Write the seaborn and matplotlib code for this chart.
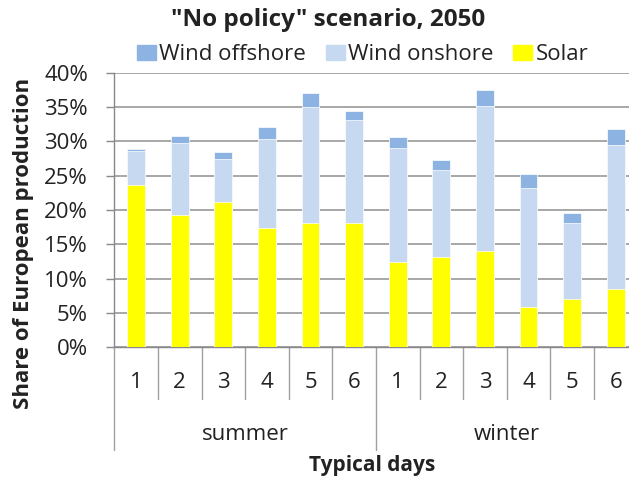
import numpy as np
import matplotlib
matplotlib.use('Agg')
import matplotlib.pyplot as plt
import matplotlib.transforms as mtransforms
from matplotlib.patches import Patch
from matplotlib.ticker import FuncFormatter
import seaborn as sns

# Data (share of European production, %)
seasons = ["summer", "winter"]
days = ["1", "2", "3", "4", "5", "6"]
solar = [23.6, 19.3, 21.1, 17.4, 18.1, 18.1, 12.4, 13.1, 14.1, 5.9, 7.0, 8.5]
wind_onshore = [5.0, 10.5, 6.3, 13.0, 16.9, 15.0, 16.7, 12.7, 21.1, 17.3, 11.1, 21.0]
wind_offshore = [0.3, 1.0, 1.0, 1.7, 2.0, 1.3, 1.5, 1.5, 2.3, 2.1, 1.5, 2.3]

c_off = '#8db3e2'
c_on = '#c6d9f1'
c_solar = '#ffff00'
grey = '#a0a0a0'
txt = '#222222'

sns.set_style('white')
plt.rcParams['font.family'] = ['Open Sans', 'DejaVu Sans']

W, H = 629, 484
fig = plt.figure(figsize=(W / 100, H / 100), dpi=100)
x0, x1, y0, y1 = 114.3, 637.5, 72.7, 347.3
ax = fig.add_axes([x0 / W, 1 - y1 / H, (x1 - x0) / W, (y1 - y0) / H])

pos = np.arange(len(solar))
top_on = np.array(solar) + np.array(wind_onshore)
top_off = top_on + np.array(wind_offshore)

# stacked bars drawn as overlapping cumulative totals
for vals, col in [(top_off, c_off), (top_on, c_on), (solar, c_solar)]:
    sns.barplot(x=pos, y=vals, color=col, width=0.41, saturation=1,
                edgecolor='white', linewidth=0.5, ax=ax, zorder=3)

ax.set_ylim(0, 40)
ax.set_xlim(-0.5, 11.5)
ax.set_yticks(np.arange(0, 41, 5))
ax.yaxis.set_major_formatter(FuncFormatter(lambda v, p: f'{v:.0f}%'))
ax.grid(axis='y', color=grey, lw=1.3, zorder=0)
ax.set_axisbelow(True)
for s in ['top', 'right']:
    ax.spines[s].set_visible(False)
for s in ['left', 'bottom']:
    ax.spines[s].set_color('#888888')
    ax.spines[s].set_linewidth(1.0)
ax.tick_params(axis='y', length=6, color='#888888', width=1.0, pad=13,
               labelsize=16, labelcolor=txt, left=True)

ax.set_xticks(pos)
ax.set_xticklabels(days * len(seasons))
ax.tick_params(axis='x', length=0, pad=25, labelsize=16, labelcolor=txt)
for t in ax.get_xticklabels():
    t.set_va('center')
ax.set_xlabel('')

# multi-level category axis
tr = mtransforms.blended_transform_factory(ax.transData, fig.transFigure)
for i in range(len(pos) + 1):
    xb = i - 0.5
    yb = 450 if i % 6 == 0 else 399
    ax.plot([xb, xb], [1 - y1 / H, 1 - yb / H], color=grey, lw=1.0,
            transform=tr, clip_on=False)
for k, s in enumerate(seasons):
    ax.text(k * 6 + 2.5, 1 - 435 / H, s, transform=tr, ha='center', va='center',
            fontsize=16, color=txt)

fig.text(372 / W, 1 - 466 / H, 'Typical days', ha='center', va='center',
         fontsize=15, fontweight='bold', color=txt)
fig.text(24 / W, 1 - 243 / H, 'Share of European production', rotation=90,
         ha='center', va='center', fontsize=16, fontweight='bold', color=txt)
fig.text(328 / W, 1 - 20 / H, '"No policy" scenario, 2050', ha='center',
         va='center', fontsize=17.5, fontweight='bold', color=txt)

handles = [Patch(color=c_off), Patch(color=c_on), Patch(color=c_solar)]
fig.legend(handles, ['Wind offshore', 'Wind onshore', 'Solar'], ncol=3,
           loc='center', bbox_to_anchor=(362.5 / W, 1 - 55 / H), frameon=False,
           fontsize=16, handlelength=0.85, handleheight=0.68, handletextpad=0.15,
           columnspacing=0.9, borderaxespad=0, borderpad=0, labelcolor=txt)

fig.savefig('out.png', dpi=100)
